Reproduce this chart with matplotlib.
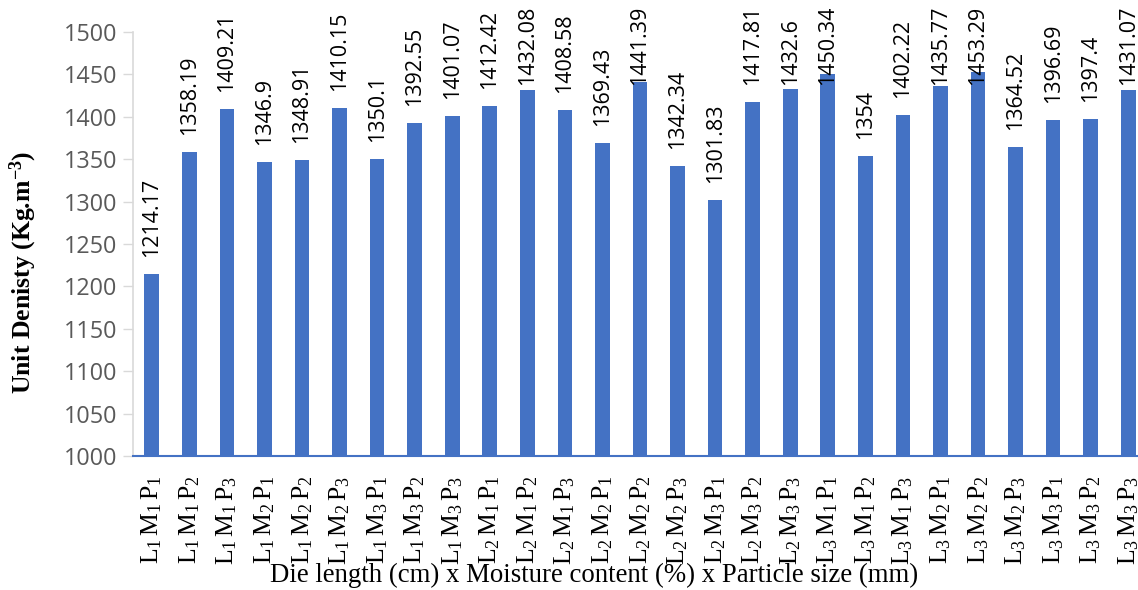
import matplotlib
matplotlib.use("Agg")
import matplotlib.pyplot as plt
import numpy as np

categories = [
    "L1M1P1", "L1M1P2", "L1M1P3", "L1M2P1", "L1M2P2", "L1M2P3", "L1M3P1", "L1M3P2", "L1M3P3",
    "L2M1P1", "L2M1P2", "L2M1P3", "L2M2P1", "L2M2P2", "L2M2P3", "L2M3P1", "L2M3P2", "L2M3P3",
    "L3M1P1", "L3M1P2", "L3M1P3", "L3M2P1", "L3M2P2", "L3M2P3", "L3M3P1", "L3M3P2", "L3M3P3",
]
values = [
    1214.17, 1358.19, 1409.21, 1346.9, 1348.91, 1410.15, 1350.1, 1392.55, 1401.07,
    1412.42, 1432.08, 1408.58, 1369.43, 1441.39, 1342.34, 1301.83, 1417.81, 1432.6,
    1450.34, 1354, 1402.22, 1435.77, 1453.29, 1364.52, 1396.69, 1397.4, 1431.07,
]
value_labels = [
    "1214.17", "1358.19", "1409.21", "1346.9", "1348.91", "1410.15", "1350.1", "1392.55", "1401.07",
    "1412.42", "1432.08", "1408.58", "1369.43", "1441.39", "1342.34", "1301.83", "1417.81", "1432.6",
    "1450.34", "1354", "1402.22", "1435.77", "1453.29", "1364.52", "1396.69", "1397.4", "1431.07",
]
yticks = [1000, 1050, 1100, 1150, 1200, 1250, 1300, 1350, 1400, 1450, 1500]

plt.rcParams['mathtext.fontset'] = 'custom'
plt.rcParams['mathtext.rm'] = 'Liberation Serif'
plt.rcParams['mathtext.it'] = 'Liberation Serif:italic'
plt.rcParams['mathtext.bf'] = 'Liberation Serif:bold'

def fmt(c):
    return r"$\mathrm{L}_{%s}\,\mathrm{M}_{%s}\,\mathrm{P}_{%s}$" % (c[1], c[3], c[5])

W, H = 1138, 590
fig = plt.figure(figsize=(W / 100, H / 100), dpi=100)
ax_bottom_px, ax_top_px = 456, 32
ax = fig.add_axes([133 / W, 1 - ax_bottom_px / H, 1014 / W, (ax_bottom_px - ax_top_px) / H])

x = np.arange(len(categories))
ax.bar(x, values, width=0.39, color="#4472C4", zorder=2)
ax.set_xlim(-0.5, len(categories) - 0.5)
ymin, ymax = 1000, 1500
ax.set_ylim(ymin, ymax)
ax.set_yticks(yticks)
ax.set_yticklabels([str(t) for t in yticks], fontfamily="Open Sans", fontsize=16.8, color="#595959")

ax.set_xticks(x)
ax.set_xticklabels([fmt(c) for c in categories], rotation=90, fontsize=18.5, color="black")
ax.tick_params(axis='x', length=0, pad=14)
ax.tick_params(axis='y', length=7, width=1, color="#d9d9d9", pad=4, direction='out')

for s in ["top", "right"]:
    ax.spines[s].set_visible(False)
ax.spines["left"].set_color("#d9d9d9")
ax.spines["left"].set_linewidth(1.2)
ax.spines["bottom"].set_color("#4472C4")
ax.spines["bottom"].set_linewidth(1.5)

# label placement: 17 px above bar, but kept inside the chart area (bottom no higher than y=85 px)
px_per_unit = (ax_bottom_px - ax_top_px) / (ymax - ymin)
gap = 17 / px_per_unit
cap = ymin + (ax_bottom_px - 85) / px_per_unit
for xi, v, lab in zip(x, values, value_labels):
    base = min(v + gap, cap)
    ax.text(xi, base, lab, rotation=90, ha="center", va="bottom", fontfamily="Open Sans",
            fontsize=15.5, color="black", clip_on=False, zorder=3)

fig.text(594 / W, 1 - 575 / H, "Die length (cm) x Moisture content (%) x Particle size (mm)",
         ha="center", va="center", fontfamily="Liberation Serif", fontsize=19.3)
fig.text(23 / W, 1 - 272 / H, r"Unit Denisty (Kg.m$^{\mathbf{-3}}$)", rotation=90,
         ha="center", va="center", fontfamily="Liberation Serif", fontweight="bold", fontsize=18.5)

fig.savefig("out.png", dpi=100)
